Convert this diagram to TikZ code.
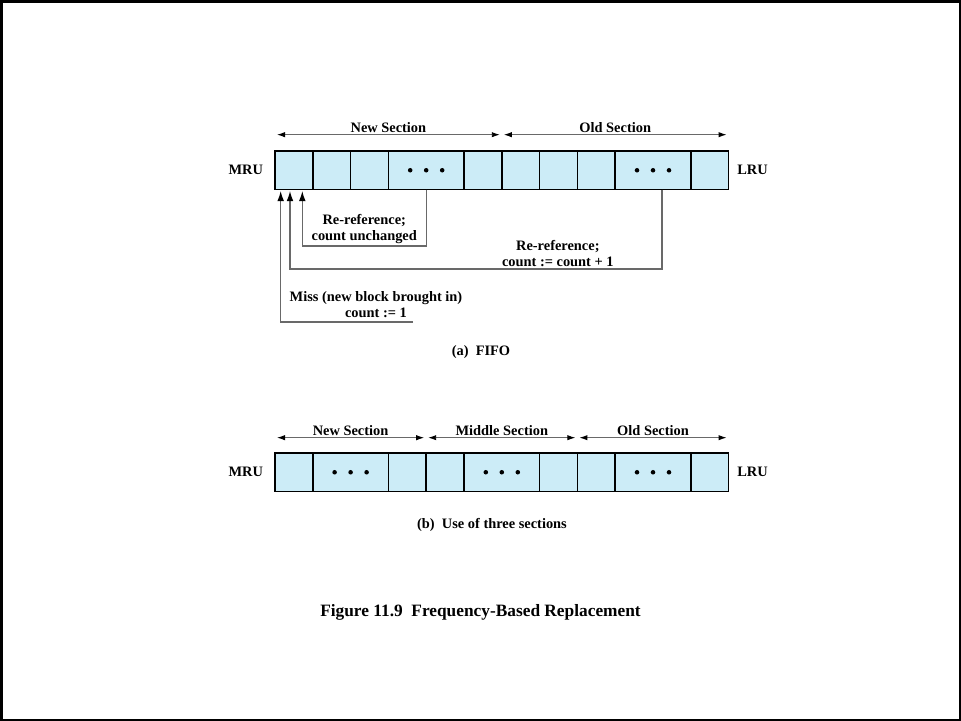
\documentclass[tikz,border=0pt]{standalone}
\usepackage{fontspec}
\setmainfont{Liberation Serif}
\usetikzlibrary{positioning, arrows.meta, calc}

\definecolor{cellblue}{RGB}{204,236,247}
\definecolor{linkgray}{RGB}{105,105,105}

\begin{document}
\begin{tikzpicture}[
    x=0.75pt, y=-0.75pt, % one unit is one pixel, y runs down
    node distance=0pt,
    every node/.style={font=\bfseries\fontsize{10.8}{12}\selectfont},
    cell/.style={draw=black, line width=1.3pt, fill=cellblue, minimum width=28.35pt, minimum height=28.9pt, inner sep=0pt, outer sep=0pt},
    wide/.style={cell, minimum width=56.7pt},
    secarrow/.style={draw=linkgray, line width=0.7pt, {Latex[length=6pt,width=4pt,color=black]}-{Latex[length=6pt,width=4pt,color=black]}},
    link/.style={draw=linkgray, line width=0.9pt, -{Latex[length=7.5pt,width=5pt,color=black]}},
    note/.style={align=center, inner sep=1pt}
]
    \useasboundingbox (0,0) rectangle (961,721);
    \draw [line width=1.5pt] (1.5,1.5) rectangle (959.5,719.5);

    % Place the cells of the FIFO buffer
    \node (a1) [cell, anchor=west] at (275,170.25) {};
    \node (a2) [cell, right=of a1] {};
    \node (a3) [cell, right=of a2] {};
    \node (a4) [wide, right=of a3] {};
    \node (a5) [cell, right=of a4] {};
    \node (a6) [cell, right=of a5] {};
    \node (a7) [cell, right=of a6] {};
    \node (a8) [cell, right=of a7] {};
    \node (a9) [wide, right=of a8] {};
    \node (a10) [cell, right=of a9] {};
    \node (mru1) [left=5.5pt of a1] {MRU};
    \node (lru1) [right=3pt of a10] {LRU};

    % sections above the buffer
    \draw [secarrow] ([shift={(2,-16.3)}]a1.north west) -- node[above, inner sep=1.5pt] {New Section} ([shift={(-2,-16.3)}]a5.north east);
    \draw [secarrow] ([shift={(2,-16.3)}]a6.north west) -- node[above, inner sep=1.5pt] {Old Section} ([shift={(-2,-16.3)}]a10.north east);

    % Draw the edges into the MRU cell
    \coordinate (in1) at ([shift={(-13.2,1.5)}]a1.south);
    \coordinate (in2) at ([shift={(-3.9,1.5)}]a1.south);
    \coordinate (in3) at ([shift={(8.4,1.5)}]a1.south);
    \draw [link] (a4.south) -- ++(0,56.5) -| node[note, above, pos=0.25] {Re-reference;\\count unchanged} (in3);
    \draw [link] ([xshift=6.75pt]a9.south) -- ++(0,79.5) -| node[note, above, pos=0.14] {Re-reference;\\count := count + 1} (in2);
    \node (miss) [note] at (376,305) {Miss (new block brought in)\\count := 1};
    \coordinate (m0) at (413,322);
    \draw [link] (m0) -| (in1);

    \node (capa) at (481,352) {(a)~~FIFO};

    % Place the cells of the three-section buffer
    \node (b1) [cell, anchor=west] at (275,472.25) {};
    \node (b2) [wide, right=of b1] {};
    \node (b3) [cell, right=of b2] {};
    \node (b4) [cell, right=of b3] {};
    \node (b5) [wide, right=of b4] {};
    \node (b6) [cell, right=of b5] {};
    \node (b7) [cell, right=of b6] {};
    \node (b8) [wide, right=of b7] {};
    \node (b9) [cell, right=of b8] {};
    \node (mru2) [left=5.5pt of b1] {MRU};
    \node (lru2) [right=3pt of b9] {LRU};

    \draw [secarrow] ([shift={(2,-15.3)}]b1.north west) -- node[above, inner sep=1.5pt] {New Section} ([shift={(-2,-15.3)}]b3.north east);
    \draw [secarrow] ([shift={(2,-15.3)}]b4.north west) -- node[above, inner sep=1.5pt] {Middle Section} ([shift={(-2,-15.3)}]b6.north east);
    \draw [secarrow] ([shift={(2,-15.3)}]b7.north west) -- node[above, inner sep=1.5pt] {Old Section} ([shift={(-2,-15.3)}]b9.north east);

    % the dots in the wide cells
    \foreach \c in {a4, a9, b2, b5, b8}
        \foreach \dx in {-12, 0, 12}
            \fill ([xshift=\dx pt]\c.center) circle (1.7pt);

    \node (capb) at (492,525) {(b)~~Use of three sections};
    \node (fig) [font=\bfseries\fontsize{13}{15}\selectfont] at (480.5,612) {Figure 11.9~~Frequency-Based Replacement};
\end{tikzpicture}
\end{document}
